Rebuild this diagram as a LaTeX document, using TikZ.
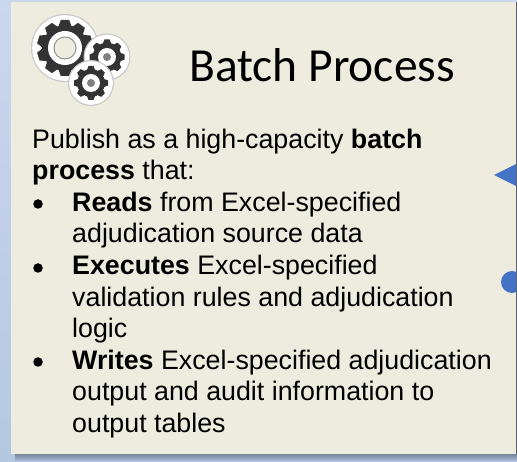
\documentclass[tikz,border=0pt]{standalone}
\usepackage{fontspec}
\setmainfont{Liberation Sans}
\newfontfamily\titlefont{Carlito}
\usetikzlibrary{calc}
\definecolor{panel}{HTML}{EEEBDF}
\definecolor{bgl}{HTML}{C9D8EC}
\definecolor{bgd}{HTML}{B4C8E2}
\definecolor{accent}{HTML}{4472C4}
\definecolor{geardark}{HTML}{333333}
\definecolor{shadowtop}{HTML}{6F7F90}
\definecolor{shadowbot}{HTML}{A3B5D3}
\tikzset{
  textline/.style={anchor=base west,inner sep=0pt,font=\fontsize{26.8pt}{30pt}\selectfont,text=black},
  dotm/.style={circle,fill=black,inner sep=0pt,minimum size=9.5pt},
  px/.style={x=1pt,y=-1pt}
}
\newcommand{\gearshape}[4]{% x y radius teeth
  \fill[black!22] (#1,#2) circle ({#3+6});
  \fill[white] (#1,#2) circle ({#3+4.8});
  \fill[geardark] (#1,#2) circle ({#3*0.82});
  \foreach \a in {1,...,#4}{
    \fill[geardark,rotate around={\a*360/#4:(#1,#2)}]
      ($(#1,#2)+({-#3*0.24},{-#3*0.75})$) -- ($(#1,#2)+({-#3*0.15},{-#3})$) --
      ($(#1,#2)+({#3*0.15},{-#3})$) -- ($(#1,#2)+({#3*0.24},{-#3*0.75})$) -- cycle;
  }
}
\begin{document}
\begin{tikzpicture}[px]
\useasboundingbox (0,0) rectangle (517,462);
\fill[top color=bgl,bottom color=bgd] (0,0) rectangle (517,462);
\fill[top color=shadowtop,bottom color=shadowbot] (15,453) rectangle (517,460);
\fill[panel] (11,2) rectangle (516,454);
\fill[black!50!bgd] (516,2) rectangle (517,454);
\fill[accent] (494,175) -- (516,164) -- (516,186) -- cycle;
\begin{scope}
\clip (0,0) rectangle (516,462);
\fill[accent] (512,282) circle (11);
\end{scope}
\gearshape{65}{48}{28}{10}
\fill[white] (65,48) circle (17);
\fill[geardark!60] (65,48) circle (11.5);
\fill[panel] (65,48) circle (10.5);
\gearshape{107}{57}{17.5}{8}
\fill[white] (107,57) circle (9);
\fill[gray] (107,57) circle (4);
\gearshape{91}{83}{17}{8}
\fill[white] (91,83) circle (9);
\fill[gray] (91,83) circle (4);
\node[anchor=base,inner sep=0pt,font=\titlefont\fontsize{47.5pt}{52pt}\selectfont] (title) at (322,82) {Batch Process};
\node[textline] (l1) at (32,149) {Publish as a high-capacity \textbf{batch}};
\node[textline] (l2) at (32,180) {\textbf{process} that:};
\node[textline] (l3) at (72,212) {\textbf{Reads} from Excel-specified};
\node[textline] (l4) at (72,243) {adjudication source data};
\node[textline] (l5) at (72,275) {\textbf{Executes} Excel-specified};
\node[textline] (l6) at (72,307) {validation rules and adjudication};
\node[textline] (l7) at (72,338) {logic};
\node[textline] (l8) at (72,370) {\textbf{Writes} Excel-specified adjudication};
\node[textline] (l9) at (72,401) {output and audit information to};
\node[textline] (l10) at (72,432) {output tables};
\node[dotm] (b1) at (38,204) {};
\node[dotm] (b2) at (38,268) {};
\node[dotm] (b3) at (38,362) {};
\end{tikzpicture}
\end{document}
